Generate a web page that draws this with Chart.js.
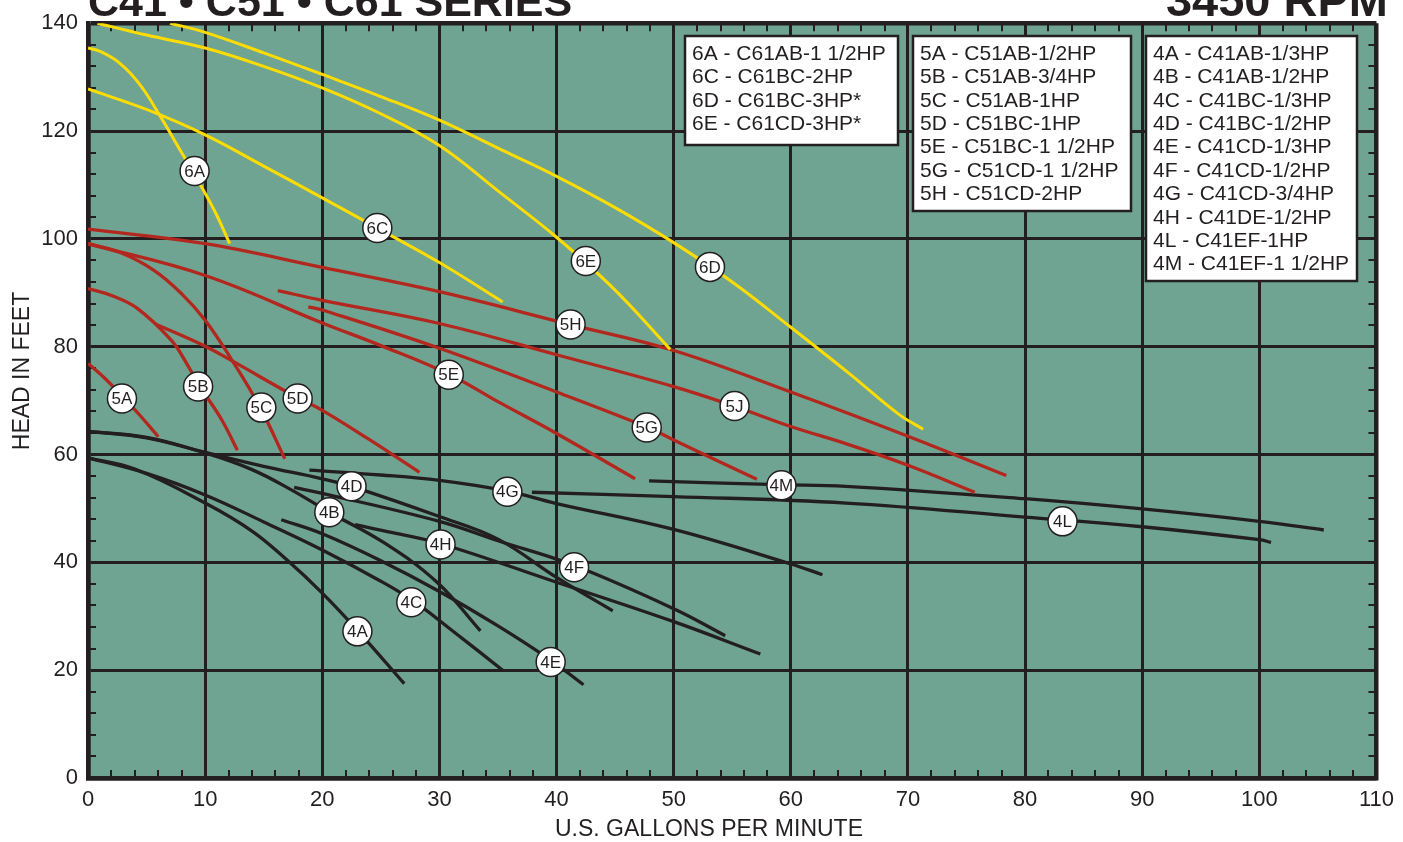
<!DOCTYPE html>
<html>
<head>
<meta charset="utf-8">
<title>C41 C51 C61 Series pump curves</title>
<script src="https://cdn.jsdelivr.net/npm/chart.js@4.4.1/dist/chart.umd.min.js"></script>
<style>
  html, body { margin: 0; padding: 0; background: #fff; }
  canvas { display: block; }
</style>
</head>
<body>
<canvas id="chart-pump" width="1403" height="842"></canvas>
<script>
// axis ticks
const xTicks = [0, 10, 20, 30, 40, 50, 60, 70, 80, 90, 100, 110];
const yTicks = [0, 20, 40, 60, 80, 100, 120, 140];

// curves: [gpm, head in feet]
const curve6A = [[0, 135.4], [1, 134.8], [2.7, 132.6], [4.4, 128.7], [6.1, 123], [7.8, 116.7], [9.6, 110], [10.9, 104.8], [12.1, 99.1]];
const curve6C = [[0, 127.8], [5, 124], [10, 119.3], [15, 113.5], [20, 107.6], [24.7, 102], [30, 95.6], [35.4, 88.3]];
const curve6D = [[7, 140], [10, 138.3], [15, 134.5], [20, 130.5], [25, 126.4], [30, 122], [35.4, 116.4], [40, 111.6], [45, 105.8], [50, 99.3], [55, 92], [60, 83.6], [65, 75], [69.2, 67.5], [71.3, 64.7]];
const curve6E = [[0.8, 140], [5, 137.8], [10, 135.4], [15, 132], [20, 128], [25, 123.2], [30, 117.3], [35, 108.9], [40, 100.3], [45, 90.5], [49.7, 79.5]];

const curve5A = [[0, 76.9], [1.5, 74], [3, 70.6], [4.5, 67.1], [6, 63.3]];
const curve5B = [[0, 90.8], [2, 89.5], [4.15, 87.2], [7.1, 81.2], [8.5, 76.6], [9.5, 72.8], [11.4, 66.5], [12.75, 60.8]];
const curve5C = [[0, 99.1], [2.7, 97.5], [5.6, 94.2], [8, 89.8], [10, 84.9], [12.2, 77.8], [14.7, 68.7], [16.8, 59.2]];
const curve5D = [[5.75, 84.2], [10, 80.1], [12.2, 77.5], [17.9, 70.5], [20, 68.2], [24, 62.8], [28.3, 56.7]];
const curve5E = [[0, 99.1], [10, 93.2], [20, 84.4], [25, 80.2], [30.8, 74.9], [35, 69.8], [40, 63.9], [46.7, 55.5]];
const curve5G = [[18.8, 87.4], [20, 86.8], [30, 79.7], [40, 71.6], [47.7, 65.1], [50, 62.7], [57.1, 55.4]];
const curve5H = [[0, 101.8], [10, 99.1], [20, 94.7], [30, 90.2], [41, 84.2], [50, 79.3], [60, 71.6], [70, 63.4], [78.4, 56.1]];
const curve5J = [[16.2, 90.4], [20, 88.6], [30, 84.3], [40, 78.5], [50, 72.6], [55, 69.1], [60, 65.2], [65, 61.8], [70, 58], [75.7, 53]];

const curve4A = [[0, 59.4], [4, 57.3], [10, 51], [14, 45.8], [16.9, 40.6], [20, 34.3], [23, 27.4], [27, 17.5]];
const curve4B = [[0, 64.3], [5, 63.1], [10, 60.3], [14, 57.2], [17.4, 53.4], [20.6, 49.3], [25.3, 43.6], [29.8, 36.3], [33.5, 27.3]];
const curve4C = [[0, 59.4], [5, 56.5], [10, 52.5], [15, 47.5], [20, 42.3], [25, 36.5], [27.8, 32.8], [31, 27.5], [35.4, 20]];
const curve4D = [[0, 64.3], [5, 63.2], [10, 60.4], [15, 57.8], [20, 55.5], [22.5, 54.1], [30, 48.5], [35, 44.3], [40, 37.2], [44.8, 31]];
const curve4E = [[16.5, 47.9], [20, 45.3], [25, 40.3], [30, 34.6], [35, 28.2], [39.4, 22], [42.3, 17.3]];
const curve4F = [[17.6, 53.9], [20, 52.8], [30, 47.6], [35, 44], [41.4, 39.5], [50, 31.4], [54.4, 26.4]];
const curve4G = [[18.9, 57.1], [25, 56.2], [30, 55.2], [35.6, 53.3], [40, 50.9], [50, 46.1], [60, 39.7], [62.7, 37.7]];
const curve4H = [[22.8, 47], [26, 45.5], [30.2, 43.4], [40, 36.3], [50, 29], [57.4, 23]];
const curve4L = [[37.9, 53], [50, 52.2], [64.7, 51], [80, 48.4], [90, 46.6], [100, 44.2], [101, 43.7]];
const curve4M = [[47.9, 55.1], [58.9, 54.4], [64.7, 54.1], [80, 51.8], [90, 49.9], [100, 47.6], [105.5, 46]];

// circled curve tags
const tagNames = ['6A', '6C', '6E', '6D', '5A', '5B', '5C', '5D', '5E', '5H', '5G', '5J', '4A', '4B', '4C', '4D', '4E', '4F', '4G', '4H', '4L', '4M'];
const tagGpm = [9.1, 24.7, 42.5, 53.1, 2.9, 9.4, 14.8, 17.9, 30.8, 41.2, 47.7, 55.2, 23, 20.6, 27.6, 22.5, 39.5, 41.5, 35.8, 30.1, 83.2, 59.2];
const tagHead = [112.6, 102, 95.9, 94.8, 70.4, 72.6, 68.7, 70.4, 74.8, 84.1, 65, 69, 27.2, 49.3, 32.6, 54.1, 21.5, 39.1, 53.1, 43.3, 47.6, 54.3];

// model key boxes
const legend6 = ['6A - C61AB-1 1/2HP', '6C - C61BC-2HP', '6D - C61BC-3HP*', '6E - C61CD-3HP*'];
const legend5 = ['5A - C51AB-1/2HP', '5B - C51AB-3/4HP', '5C - C51AB-1HP', '5D - C51BC-1HP', '5E - C51BC-1 1/2HP', '5G - C51CD-1 1/2HP', '5H - C51CD-2HP'];
const legend4 = ['4A - C41AB-1/3HP', '4B - C41AB-1/2HP', '4C - C41BC-1/3HP', '4D - C41BC-1/2HP', '4E - C41CD-1/3HP', '4F - C41CD-1/2HP', '4G - C41CD-3/4HP', '4H - C41DE-1/2HP', '4L - C41EF-1HP', '4M - C41EF-1 1/2HP'];

const titleLeft = 'C41 • C51 • C61 SERIES';
const titleRight = '3450 RPM';
const xTitle = 'U.S. GALLONS PER MINUTE';
const yTitle = 'HEAD IN FEET';

const FONT = '"Liberation Sans", Arial, Helvetica, sans-serif';
const INK = '#231f20';
const TEAL = '#6fa392';
const YELLOW = '#ffdc00';
const RED = '#b3281e';

const curves = [
  [curve6A, YELLOW], [curve6C, YELLOW], [curve6D, YELLOW], [curve6E, YELLOW],
  [curve5A, RED], [curve5B, RED], [curve5C, RED], [curve5D, RED],
  [curve5E, RED], [curve5G, RED], [curve5H, RED], [curve5J, RED],
  [curve4A, INK], [curve4B, INK], [curve4C, INK], [curve4D, INK], [curve4E, INK],
  [curve4F, INK], [curve4G, INK], [curve4H, INK], [curve4L, INK], [curve4M, INK],
];

const datasets = curves.map(([pts, col]) => ({
  data: pts.map(p => ({ x: p[0], y: p[1] })),
  borderColor: col,
  borderWidth: col === YELLOW ? 3 : 3.3,
  pointRadius: 0,
  fill: false,
  tension: 0.4,
  order: 1,
}));

// tags go last in drawing (lowest order is painted on top)
datasets.push({
  data: tagGpm.map((x, i) => ({ x, y: tagHead[i] })),
  showLine: false,
  pointRadius: 14.5,
  pointBackgroundColor: '#ffffff',
  pointBorderColor: INK,
  pointBorderWidth: 1.5,
  order: 0,
});

const boxes = [
  { lines: legend6, x: 685, y: 36, w: 213, h: 109 },
  { lines: legend5, x: 913, y: 36, w: 218, h: 175 },
  { lines: legend4, x: 1146, y: 36, w: 211, h: 245 },
];

const decor = {
  id: 'decor',
  beforeDraw(chart) {
    const { ctx, chartArea: a } = chart;
    ctx.save();
    ctx.fillStyle = TEAL;
    ctx.fillRect(a.left, a.top, a.right - a.left, a.bottom - a.top);
    ctx.restore();
  },
  beforeDatasetsDraw(chart) {
    const { ctx, chartArea: a, scales } = chart;
    ctx.save();
    ctx.strokeStyle = INK;
    ctx.lineWidth = 2;
    ctx.beginPath();
    for (let v = 2; v < 110; v += 2) {
      if (v % 10 === 0) continue;
      const px = Math.round(scales.x.getPixelForValue(v));
      ctx.moveTo(px, a.bottom); ctx.lineTo(px, a.bottom - 8);
      ctx.moveTo(px, a.top); ctx.lineTo(px, a.top + 8);
    }
    for (let v = 4; v < 140; v += 4) {
      if (v % 20 === 0) continue;
      const py = Math.round(scales.y.getPixelForValue(v));
      ctx.moveTo(a.left, py); ctx.lineTo(a.left + 8, py);
      ctx.moveTo(a.right, py); ctx.lineTo(a.right - 8, py);
    }
    ctx.stroke();
    ctx.restore();
  },
  afterDatasetsDraw(chart) {
    const { ctx, scales } = chart;
    ctx.save();
    // tag text inside the circles
    ctx.fillStyle = INK;
    ctx.font = `17px ${FONT}`;
    ctx.textAlign = 'center';
    ctx.textBaseline = 'middle';
    tagNames.forEach((t, i) => {
      ctx.fillText(t, scales.x.getPixelForValue(tagGpm[i]), scales.y.getPixelForValue(tagHead[i]) + 1);
    });
    // model key boxes
    boxes.forEach(b => {
      ctx.fillStyle = '#ffffff';
      ctx.fillRect(b.x, b.y, b.w, b.h);
      ctx.strokeStyle = INK;
      ctx.lineWidth = 2.5;
      ctx.strokeRect(b.x, b.y, b.w, b.h);
      ctx.fillStyle = INK;
      ctx.font = `21px ${FONT}`;
      ctx.textAlign = 'left';
      ctx.textBaseline = 'middle';
      b.lines.forEach((l, i) => ctx.fillText(l, b.x + 7, b.y + 18 + i * 23.4));
    });
    ctx.restore();
  },
  afterDraw(chart) {
    const { ctx } = chart;
    ctx.save();
    ctx.fillStyle = INK;
    ctx.textBaseline = 'alphabetic';
    ctx.font = `bold 43px ${FONT}`;
    ctx.textAlign = 'left';
    ctx.fillText(titleLeft, 88, 16);
    ctx.font = `bold 47px ${FONT}`;
    ctx.textAlign = 'right';
    ctx.fillText(titleRight, 1388, 16);
    ctx.font = `23px ${FONT}`;
    ctx.textAlign = 'center';
    ctx.textBaseline = 'middle';
    ctx.fillText(xTitle, 709, 830);
    ctx.translate(23, 371);
    ctx.rotate(-Math.PI / 2);
    ctx.fillText(yTitle, 0, 0);
    ctx.restore();
  },
};

const edgeWidth = (ctx, last) => (ctx.tick && (ctx.tick.value === 0 || ctx.tick.value === last) ? 4.5 : 3);

new Chart(document.getElementById('chart-pump'), {
  type: 'line',
  data: { datasets },
  plugins: [decor],
  options: {
    responsive: false,
    animation: false,
    events: [],
    layout: { padding: { top: 22, right: 21, left: 0, bottom: 0 } },
    plugins: {
      legend: { display: false },
      tooltip: { enabled: false },
    },
    scales: {
      x: {
        type: 'linear',
        min: 0,
        max: 110,
        afterBuildTicks: s => { s.ticks = xTicks.map(v => ({ value: v })); },
        afterFit: s => { s.height = 64; },
        ticks: { color: INK, font: { family: FONT, size: 22 }, padding: 9, maxRotation: 0, autoSkip: false },
        grid: { color: INK, lineWidth: c => edgeWidth(c, 110), drawTicks: false },
        border: { color: INK, width: 4.5 },
      },
      y: {
        min: 0,
        max: 140,
        afterBuildTicks: s => { s.ticks = yTicks.map(v => ({ value: v })); },
        afterFit: s => { s.width = 88; },
        ticks: { color: INK, font: { family: FONT, size: 22 }, padding: 10, autoSkip: false },
        grid: { color: INK, lineWidth: c => edgeWidth(c, 140), drawTicks: false },
        border: { color: INK, width: 4.5 },
      },
    },
  },
});
</script>
</body>
</html>
